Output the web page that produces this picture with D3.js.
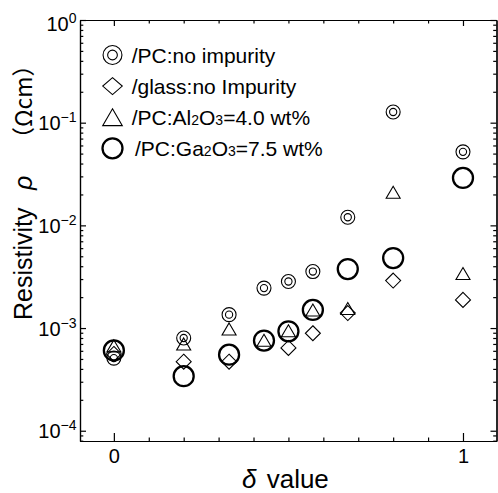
<!DOCTYPE html>
<html>
<head>
<meta charset="utf-8">
<script src="https://cdn.jsdelivr.net/npm/d3@7"></script>
<style>
  body { margin: 0; background: #fff; }
  svg { display: block; }
  text { font-family: "Liberation Sans", Arial, "Noto Sans CJK JP", sans-serif; }
  .jp { font-family: "Noto Sans CJK JP", sans-serif; }
</style>
</head>
<body>
<svg width="498" height="493"></svg>
<script>
// values
const deltaPC = [0, 0.2, 0.33, 0.43, 0.5, 0.57, 0.67, 0.8, 1.0];
const rhoPC = [5.1e-4, 8.0e-4, 1.35e-3, 2.45e-3, 2.84e-3, 3.55e-3, 0.012, 0.127, 0.052];

const deltaGlass = [0, 0.2, 0.33, 0.5, 0.57, 0.67, 0.8, 1.0];
const rhoGlass = [5.6e-4, 4.7e-4, 4.7e-4, 6.4e-4, 8.9e-4, 1.4e-3, 2.9e-3, 1.88e-3];

const deltaAl = [0, 0.2, 0.33, 0.43, 0.5, 0.57, 0.67, 0.8, 1.0];
const rhoAl = [6.7e-4, 7.0e-4, 9.8e-4, 7.6e-4, 9.4e-4, 1.5e-3, 1.55e-3, 0.021, 3.4e-3];

const deltaGa = [0, 0.2, 0.33, 0.43, 0.5, 0.57, 0.67, 0.8, 1.0];
const rhoGa = [6.05e-4, 3.4e-4, 5.5e-4, 7.55e-4, 9.3e-4, 1.5e-3, 3.75e-3, 4.8e-3, 0.029];

const xMajor = [0, 1];
const xMinor = [0.1, 0.2, 0.3, 0.4, 0.5, 0.6, 0.7, 0.8, 0.9];
const yMajor = [1e-4, 1e-3, 1e-2, 1e-1, 1];
const yMinor = [8e-5, 9e-5,
  2e-4, 3e-4, 4e-4, 5e-4, 6e-4, 7e-4, 8e-4, 9e-4,
  2e-3, 3e-3, 4e-3, 5e-3, 6e-3, 7e-3, 8e-3, 9e-3,
  2e-2, 3e-2, 4e-2, 5e-2, 6e-2, 7e-2, 8e-2, 9e-2,
  0.2, 0.3, 0.4, 0.5, 0.6, 0.7, 0.8, 0.9];

// legend labels, [text, isSubscript]
const legendLabels = [
  [['/PC:no impurity', 0]],
  [['/glass:no Impurity', 0]],
  [['/PC:Al', 0], ['2', 1], ['O', 0], ['3', 1], ['=4.0 wt%', 0]],
  [['/PC:Ga', 0], ['2', 1], ['O', 0], ['3', 1], ['=7.5 wt%', 0]]
];

const svg = d3.select('svg');

const x = d3.scaleLinear().domain([-0.097, 1.096]).range([80, 496.5]);
const y = d3.scaleLog().domain([Math.pow(10, -4.1), 1]).range([441, 20]);

function addAxis(gen, tx, ty) {
  const g = svg.append('g')
    .attr('transform', `translate(${tx},${ty})`)
    .call(gen.tickSizeOuter(0));
  g.selectAll('path, line').attr('stroke', '#000').attr('stroke-width', 1.2);
  return g;
}

// bottom
const xAxis = addAxis(d3.axisBottom(x).tickValues(xMajor).tickSize(-8).tickPadding(8).tickFormat(d3.format('d')), 0, 441);
xAxis.selectAll('text').attr('font-size', 20).attr('fill', '#000');
addAxis(d3.axisBottom(x).tickValues(xMinor).tickSize(-3.5).tickFormat(''), 0, 441);
// top
addAxis(d3.axisTop(x).tickValues(xMajor).tickSize(-6).tickFormat(''), 0, 20);
addAxis(d3.axisTop(x).tickValues(xMinor).tickSize(-3.5).tickFormat(''), 0, 20);
// left
const yAxis = addAxis(d3.axisLeft(y).tickValues(yMajor).tickSize(-6).tickFormat(''), 80, 0);
addAxis(d3.axisLeft(y).tickValues(yMinor).tickSize(-3.3).tickFormat(''), 80, 0);
// right
addAxis(d3.axisRight(y).tickValues(yMajor).tickSize(-6).tickFormat(''), 496.5, 0);
addAxis(d3.axisRight(y).tickValues(yMinor).tickSize(-3.3).tickFormat(''), 496.5, 0);

yAxis.selectAll('.tick').each(function (d) {
  const e = Math.round(Math.log10(d));
  const t = d3.select(this).append('text')
    .attr('x', -3.5).attr('y', e === 0 ? 3 : 0).attr('dy', '0.35em')  // top label sits a bit lower
    .attr('text-anchor', 'end').attr('fill', '#000').attr('font-size', 20);
  t.append('tspan').text('10');
  t.append('tspan').attr('font-size', 14).attr('dy', -8)
    .text(e < 0 ? '\u2212' + (-e) : String(e));
});

// markers
function drawSymbol(g, type, s) {
  g.attr('fill', 'none').attr('stroke', '#000').attr('stroke-width', 1.1);
  if (type === 'dcirc') {
    g.append('circle').attr('r', 7 * s);
    g.append('circle').attr('r', 3.6 * s);
  } else if (type === 'diamond') {
    const w = 7.5 * s, h = 7.5 * s * (s > 1 ? 0.87 : 1);
    g.append('path').attr('d', `M0,${-h}L${w},0L0,${h}L${-w},0Z`);
  } else if (type === 'tri') {
    const w = 7 * s, h = 6 * s;
    g.append('path').attr('d', `M0,${-h}L${w},${h}L${-w},${h}Z`);
  } else {
    g.attr('stroke-width', 2.3);
    g.append('circle').attr('r', 10 * s);
  }
}

const series = [
  { xs: deltaPC, ys: rhoPC, type: 'dcirc' },
  { xs: deltaGlass, ys: rhoGlass, type: 'diamond' },
  { xs: deltaAl, ys: rhoAl, type: 'tri' },
  { xs: deltaGa, ys: rhoGa, type: 'circ' }
];

series.forEach(sr => {
  svg.append('g').selectAll('g')
    .data(d3.zip(sr.xs, sr.ys))
    .join('g')
    .attr('transform', d => `translate(${x(d[0])},${y(d[1])})`)
    .each(function () { drawSymbol(d3.select(this), sr.type, 1); });
});

// legend
const legendScale = [1.35, 1.3, 1.4, 1.0];
const legend = svg.append('g');
series.forEach((sr, i) => {
  const cy = 55 + i * 31.1;
  drawSymbol(legend.append('g').attr('transform', `translate(112.5,${cy})`), sr.type, legendScale[i]);
  const t = legend.append('text')
    .attr('x', i === 3 ? 135 : 131.7).attr('y', cy + 8)
    .attr('font-size', 21).attr('fill', '#000');
  legendLabels[i].forEach(p => {
    t.append('tspan').attr('font-size', p[1] ? 14 : 21).text(p[0]);
  });
});

// axis titles
const yTitle = svg.append('text')
  .attr('transform', 'rotate(-90)')
  .attr('x', -320).attr('y', 32)
  .attr('font-size', 25).attr('fill', '#000');
yTitle.append('tspan').text('Resistivity');
yTitle.append('tspan').attr('x', -190).attr('font-style', 'italic').text('\u03c1');
yTitle.append('tspan').attr('x', -150).attr('class', 'jp').attr('font-size', 23).text('\uff08\u03a9cm\uff09');

const xTitle = svg.append('text')
  .attr('x', 242).attr('y', 488)
  .attr('font-size', 26).attr('fill', '#000');
xTitle.append('tspan').attr('font-style', 'italic').text('\u03b4');
xTitle.append('tspan').attr('dx', 3).text(' value');
</script>
</body>
</html>
